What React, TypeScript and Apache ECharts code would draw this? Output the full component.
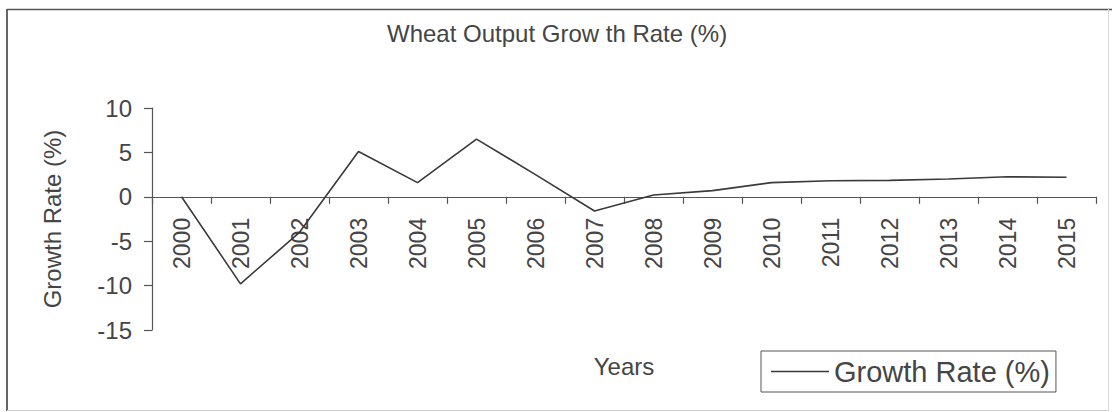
import React, { useEffect, useRef } from "react";
import * as echarts from "echarts";

const years = ["2000", "2001", "2002", "2003", "2004", "2005", "2006", "2007", "2008", "2009", "2010", "2011", "2012", "2013", "2014", "2015"];
const growthRate = [0, -9.8, -4.0, 5.1, 1.6, 6.5, 2.5, -1.6, 0.2, 0.7, 1.6, 1.8, 1.85, 2.0, 2.25, 2.2];
const yTicks = { min: -15, max: 10, interval: 5 };

const FONT = "'Liberation Sans', Arial, sans-serif";
const TEXT = "#454545";
const AXIS = "#555555";

const GRID_TOP = 108;
const GRID_BOTTOM_Y = 330;

export default function App() {
  const ref = useRef<HTMLDivElement>(null);
  useEffect(() => {
    if (!ref.current) return;
    const chart = echarts.init(ref.current, null, { renderer: "svg" });
    // zero line position inside the grid, derived from the y scale
    const zeroY = GRID_TOP + ((yTicks.max - 0) / (yTicks.max - yTicks.min)) * (GRID_BOTTOM_Y - GRID_TOP);
    const xOffset = -(GRID_BOTTOM_Y - zeroY);
    chart.setOption({
      animation: false,
      backgroundColor: "#ffffff",
      textStyle: { fontFamily: FONT },
      title: {
        text: "Wheat Output Grow th Rate (%)",
        left: 387,
        top: 21,
        padding: 0,
        textStyle: { fontFamily: FONT, fontSize: 24, fontWeight: "normal", color: TEXT },
      },
      legend: {
        left: 761,
        top: 351,
        orient: "horizontal",
        padding: [6, 6, 6, 10],
        borderColor: "#555",
        borderWidth: 1,
        icon: "rect",
        itemWidth: 58,
        itemHeight: 1.6,
        itemGap: 5,
        textStyle: { fontFamily: FONT, fontSize: 29, color: TEXT },
        data: ["Growth Rate (%)"],
      },
      grid: { left: 152, right: 16, top: GRID_TOP, bottom: 412 - GRID_BOTTOM_Y, containLabel: false, outerBoundsMode: "none" },
      xAxis: {
        type: "category",
        data: years,
        boundaryGap: true,
        position: "bottom",
        offset: xOffset,
        name: "Years",
        nameLocation: "middle",
        nameGap: 158,
        nameTextStyle: { fontFamily: FONT, fontSize: 24, color: TEXT },
        axisLine: { onZero: false, lineStyle: { color: AXIS, width: 1.2 } },
        axisTick: { show: true, length: 7, lineStyle: { color: AXIS, width: 1.2 } },
        axisLabel: { rotate: 90, margin: 21, fontSize: 23, color: TEXT, fontFamily: FONT },
        splitLine: { show: false },
      },
      yAxis: {
        type: "value",
        min: yTicks.min,
        max: yTicks.max,
        interval: yTicks.interval,
        name: "Growth Rate (%)",
        nameLocation: "middle",
        nameGap: 88,
        nameTextStyle: { fontFamily: FONT, fontSize: 24, color: TEXT },
        axisLine: { show: true, lineStyle: { color: AXIS, width: 1.2 } },
        axisTick: { show: true, length: 8, lineStyle: { color: AXIS, width: 1.2 } },
        axisLabel: { margin: 20, fontSize: 24, color: TEXT, fontFamily: FONT, showMinLabel: true, showMaxLabel: true },
        splitLine: { show: false },
      },
      series: [
        {
          name: "Growth Rate (%)",
          type: "line",
          data: growthRate,
          symbol: "none",
          lineStyle: { color: "#3a3a3a", width: 1.6 },
          itemStyle: { color: "#3a3a3a" },
        },
      ],
      graphic: [
        { type: "line", shape: { x1: 7, y1: 9, x2: 7, y2: 411 }, style: { stroke: "#666", lineWidth: 2 }, silent: true },
        { type: "line", shape: { x1: 7, y1: 9.5, x2: 1112, y2: 9.5 }, style: { stroke: "#555", lineWidth: 1.3 }, silent: true },
        { type: "line", shape: { x1: 1108.5, y1: 9, x2: 1108.5, y2: 411 }, style: { stroke: "#d8d8d8", lineWidth: 1 }, silent: true },
        { type: "line", shape: { x1: 7, y1: 410.5, x2: 1108, y2: 410.5 }, style: { stroke: "#cfcfcf", lineWidth: 1 }, silent: true },
      ],
    });
    return () => chart.dispose();
  }, []);
  return <div ref={ref} style={{ position: "fixed", left: 0, top: 0, width: 1112, height: 412 }} />;
}
